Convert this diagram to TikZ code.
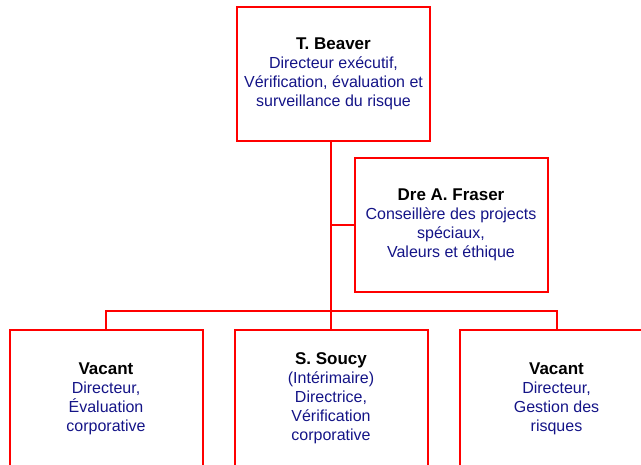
\documentclass[tikz,border=0pt]{standalone}
\usepackage{fontspec}
\setmainfont{Liberation Sans}
\definecolor{boxred}{RGB}{255,0,0}
\definecolor{txtblue}{RGB}{20,20,135}
\tikzset{
  orgbox/.style={draw=boxred, line width=2pt, minimum width=193pt, minimum height=134pt,
    align=center, inner sep=0pt, text=txtblue, font=\fontsize{16}{19}\selectfont},
  lowbox/.style={orgbox, minimum height=137pt},
  link/.style={draw=boxred, line width=2pt}
}
\newcommand{\pname}[1]{{\fontsize{17}{19}\selectfont\bfseries\color{black}#1}}
\begin{document}
\begin{tikzpicture}[x=1pt,y=-1pt]
\useasboundingbox (0,0) rectangle (641,464);
\clip (0,0) rectangle (641,464);
\coordinate (hub) at (331,311);
\node[orgbox] (top) at (333.5,73.5) {\pname{T. Beaver}\\Directeur exécutif,\\Vérification, évaluation et\\surveillance du risque};
\node[orgbox] (fraser) at (451,224.5) {\pname{Dre A. Fraser}\\Conseillère des projects\\spéciaux,\\Valeurs et éthique};
\node[lowbox] (left) at (106,398.5) {\pname{Vacant}\\Directeur,\\Évaluation\\corporative};
\node[lowbox] (mid) at (331,398.5) {\pname{S. Soucy}\\(Intérimaire)\\Directrice,\\Vérification\\corporative};
\node[lowbox] (right) at (556.5,398.5) {\pname{Vacant}\\Directeur,\\Gestion des\\risques};
\draw[link] (top.south -| hub) -- (hub);
\draw[link] (fraser.west) -- (fraser.west -| hub);
\draw[link] (hub) -| (left.north);
\draw[link] (hub) -| (right.north);
\draw[link] (hub) -- (mid.north);
\end{tikzpicture}
\end{document}
